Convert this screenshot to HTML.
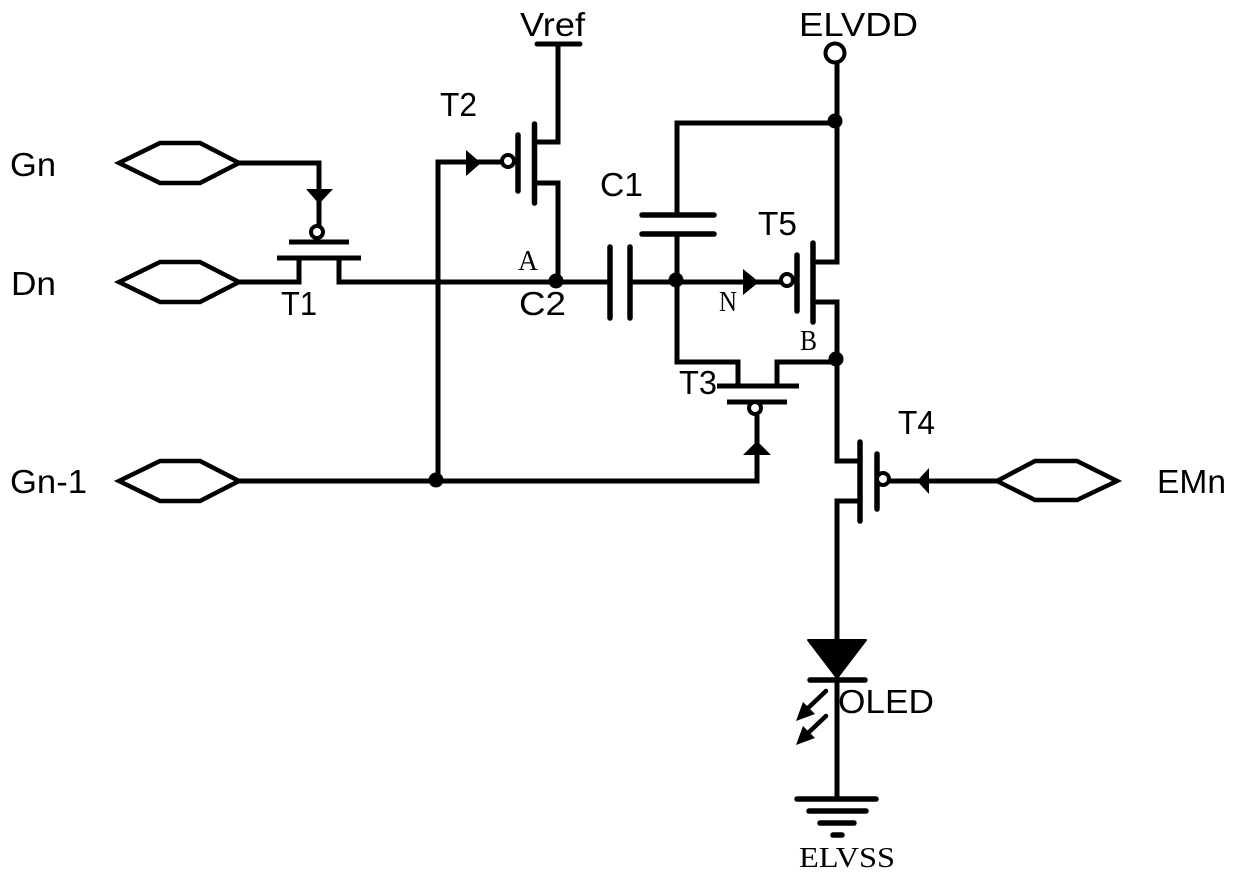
<!DOCTYPE html>
<html>
<head>
<meta charset="utf-8">
<style>
html,body{margin:0;padding:0;background:#fff;width:1240px;height:877px;overflow:hidden}
svg{display:block}
.w{fill:none;stroke:#000;stroke-width:5;stroke-linejoin:miter;stroke-linecap:butt}
.r{fill:none;stroke:#000;stroke-width:5.500;stroke-linecap:round}
.b{fill:#fff;stroke:#000;stroke-width:4}
.h{fill:#fff;stroke:#000;stroke-width:4.500}
.t{font-family:"Liberation Sans",sans-serif;font-size:33.500px;fill:#000}
.m{font-family:"Liberation Serif",serif;font-size:28px;fill:#000}
</style>
</head>
<body>
<svg width="1240" height="877" viewBox="0 0 1240 877" xmlns="http://www.w3.org/2000/svg">
<!-- wires -->
<path class="w" d="M239 163H319V226"/>
<path class="w" d="M239 282H299V258"/>
<path class="w" d="M339 258V282H610"/>
<path class="w" d="M438 481V162H502"/>
<path class="w" d="M239 481H757V415"/>
<path class="w" d="M537 44H580" style="stroke-linecap:round"/>
<path class="w" d="M535 142H558V44"/>
<path class="w" d="M535 183H558V282"/>
<path class="w" d="M630 282H781"/>
<path class="w" d="M677 215V123H836"/>
<path class="w" d="M677 234V362H738V386"/>
<path class="w" d="M777 386V362H837"/>
<path class="w" d="M837 63V262H813"/>
<path class="w" d="M813 302H837V461H860"/>
<path class="w" d="M860 501H837V799"/>
<path class="w" d="M889 481H997"/>
<!-- T1 -->
<path class="w" d="M289 242H349M277 258H361"/>
<!-- T2 -->
<path class="r" d="M518 135V191M534.500 124V203"/>
<!-- T3 -->
<path class="w" d="M717 386H799M727 402H787"/>
<!-- T4 -->
<path class="r" d="M860 442V521M877 454V509"/>
<!-- T5 -->
<path class="r" d="M797 255V311M813 243V322"/>
<!-- capacitors -->
<path class="r" d="M610 247V318M630 247V318M642 215H714M642 234H714"/>
<!-- bubbles -->
<circle class="b" cx="317" cy="232" r="6"/>
<circle class="b" cx="508" cy="161" r="6"/>
<circle class="b" cx="787" cy="280" r="6"/>
<circle class="b" cx="755" cy="408" r="6"/>
<circle class="b" cx="883" cy="479" r="6"/>
<circle class="b" cx="835" cy="53" r="9.500"/>
<!-- arrows -->
<polygon points="306,189 333,189 319,204"/>
<polygon points="466,150 481,163 466,176"/>
<polygon points="743,269 759,282 743,295"/>
<polygon points="757,441 771,455 743,455"/>
<polygon points="917,481 929,468 929,494"/>
<!-- dots -->
<circle cx="556" cy="281" r="7.500"/>
<circle cx="676" cy="280" r="7.500"/>
<circle cx="835" cy="121" r="7.500"/>
<circle cx="836" cy="359" r="7.500"/>
<circle cx="436" cy="480" r="7.500"/>
<!-- hexagons -->
<polygon class="h" points="119,163 160,143 200,143 239,163 200,183 160,183"/>
<polygon class="h" points="119,282 160,262 200,262 239,282 200,302 160,302"/>
<polygon class="h" points="119,481 160,461 200,461 239,481 200,501 160,501"/>
<polygon class="h" points="997,481 1035,461 1077,461 1117,481 1077,500 1035,500"/>
<!-- OLED -->
<polygon points="808,640 866,640 837,678" stroke="#000" stroke-width="2" stroke-linejoin="round"/>
<path class="r" d="M810 680H865"/>
<path d="M826 691L806 710" stroke="#000" stroke-width="4.500" stroke-linecap="round"/>
<polygon points="796,721 803,702 815,714"/>
<path d="M826 716L806 735" stroke="#000" stroke-width="4.500" stroke-linecap="round"/>
<polygon points="796,745 803,726 815,738"/>
<!-- ground -->
<path class="r" d="M797 799H876M809 811H866M820 823H854M833 835H842"/>
<!-- labels -->
<text class="t" x="10" y="176" textLength="46" lengthAdjust="spacingAndGlyphs">Gn</text>
<text class="t" x="11" y="295" textLength="45" lengthAdjust="spacingAndGlyphs">Dn</text>
<text class="t" x="10" y="493" textLength="77" lengthAdjust="spacingAndGlyphs">Gn-1</text>
<text class="t" x="1157" y="493" textLength="69" lengthAdjust="spacingAndGlyphs">EMn</text>
<text class="t" x="281" y="315" textLength="36" lengthAdjust="spacingAndGlyphs">T1</text>
<text class="t" x="440" y="116" textLength="37" lengthAdjust="spacingAndGlyphs">T2</text>
<text class="t" x="679" y="394" textLength="38" lengthAdjust="spacingAndGlyphs">T3</text>
<text class="t" x="898" y="434" textLength="37" lengthAdjust="spacingAndGlyphs">T4</text>
<text class="t" x="758" y="235" textLength="39" lengthAdjust="spacingAndGlyphs">T5</text>
<text class="t" x="600" y="196" textLength="43" lengthAdjust="spacingAndGlyphs">C1</text>
<text class="t" x="519" y="315" textLength="47" lengthAdjust="spacingAndGlyphs">C2</text>
<text class="t" x="520" y="36" textLength="65" lengthAdjust="spacingAndGlyphs">Vref</text>
<text class="t" x="799" y="36" textLength="119" lengthAdjust="spacingAndGlyphs">ELVDD</text>
<text class="t" x="838" y="713" textLength="96" lengthAdjust="spacingAndGlyphs">OLED</text>
<text class="m" x="518" y="270" textLength="20" lengthAdjust="spacingAndGlyphs">A</text>
<text class="m" x="719" y="311" textLength="18" lengthAdjust="spacingAndGlyphs">N</text>
<text class="m" x="800" y="350" textLength="17" lengthAdjust="spacingAndGlyphs">B</text>
<text class="m" x="799" y="867" textLength="96" lengthAdjust="spacingAndGlyphs">ELVSS</text>
</svg>
</body>
</html>
